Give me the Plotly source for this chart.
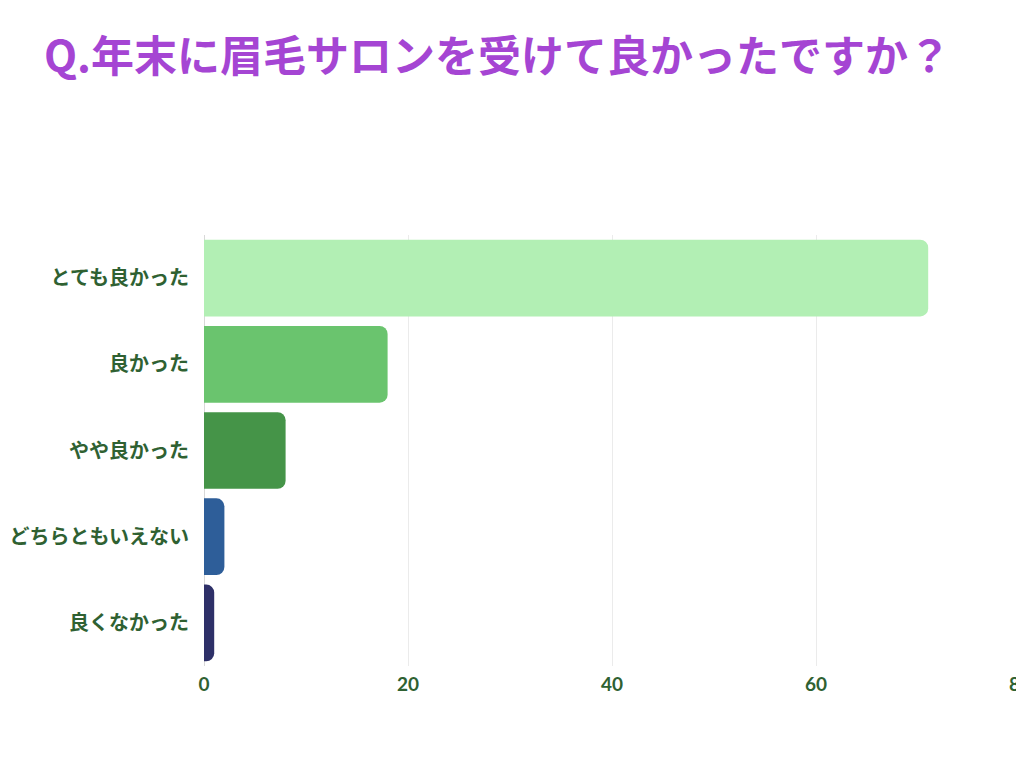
import plotly.graph_objects as go

# data
categories = ['とても良かった', '良かった', 'やや良かった', 'どちらともいえない', '良くなかった']
values = [71, 18, 8, 2, 1]
bar_colors = ['#b2efb4', '#6ac46e', '#459448', '#2e5e99', '#2e3068']
x_ticks = [0, 20, 40, 60, 80]

fig = go.Figure()

fig.add_trace(go.Bar(x=values,
                     y=categories,
                     orientation='h',
                     marker=dict(color=bar_colors, line=dict(width=0)),
                     hoverinfo='x+y'))

fig.update_layout(title=dict(text='<b>Q.年末に眉毛サロンを受けて良かったですか？</b>',
                             x=0.0354, xanchor='left', y=0.9347, yanchor='middle',
                             font=dict(family='Noto Sans CJK JP', size=43, color='#a545d3')),
                  width=1016, height=750,
                  margin=dict(l=196, r=4, t=227, b=92),
                  plot_bgcolor='white', paper_bgcolor='white',
                  bargap=0.11, barcornerradius=8,
                  showlegend=False,
                  font=dict(family='Noto Sans CJK JP'))

fig.update_xaxes(range=[0, 80], tickvals=x_ticks, automargin=False,
                 ticklabeloverflow='allow', ticklabelstandoff=5,
                 showgrid=True, gridcolor='#ebebeb', gridwidth=1,
                 zeroline=True, zerolinecolor='#d8d8d8', zerolinewidth=1,
                 showline=False, ticks='',
                 tickfont=dict(family='Lato', size=19, color='#2f6132', weight='bold'))

fig.update_yaxes(autorange='reversed', automargin=False,
                 showgrid=False, showline=False, ticks='',
                 ticklabelstandoff=14,
                 tickfont=dict(family='Noto Sans CJK JP', size=20, color='#2f6132', weight='bold'))

fig.write_html("out.html")
